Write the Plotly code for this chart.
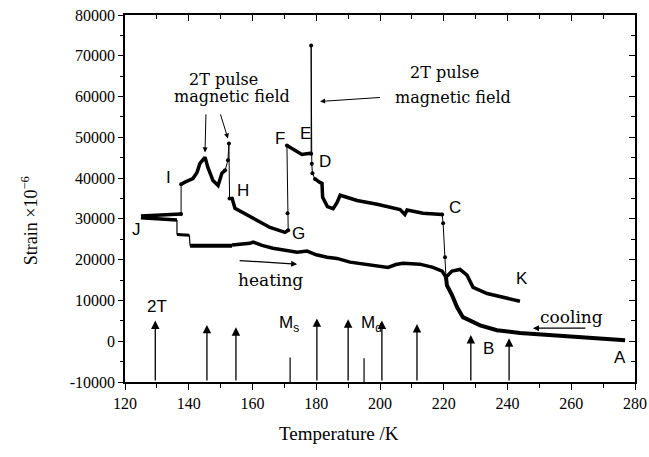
import plotly.graph_objects as go

# ---------------- data ----------------
# cooling branch: A -> B -> (pulse at 220 K) -> C
cool_AB_T = [276.9, 268.0, 260.5, 254.3, 243.9, 236.7, 231.4, 226.0, 224.2, 222.6, 221.0, 220.7]
cool_AB_S = [250, 700, 1200, 1500, 2000, 2700, 3900, 5900, 8300, 11300, 13700, 15700]
pulse_C_T = [220.7, 220.4, 219.8, 219.5]
pulse_C_S = [15700, 20600, 28900, 31100]
# C -> D
cool_CD_T = [219.5, 213.5, 208.5, 207.8, 206.3, 199.1, 192.8, 187.5, 186.5, 185.3, 183.5, 182.0, 181.8, 181.0, 179.6]
cool_CD_S = [31100, 31400, 32200, 31100, 32300, 33600, 34500, 35800, 34000, 32500, 33000, 35300, 38700, 39000, 39800]
pulse_E_T = [179.6, 178.8, 178.6, 178.4, 178.4]
pulse_E_S = [39800, 41200, 43500, 72500, 46000]
# E -> F
cool_EF_T = [178.4, 178.0, 175.5, 173.3, 170.8]
cool_EF_S = [46000, 46100, 45800, 46800, 48000]
drop_FG_T = [170.8, 171.0, 171.2]
drop_FG_S = [48000, 31400, 27200]
# G -> H
cool_GH_T = [171.2, 170.2, 165.5, 160.2, 157.0, 154.5, 153.6]
cool_GH_S = [27200, 26700, 27900, 30100, 31400, 32600, 35000]
pulse_H_T = [153.6, 152.8, 152.6, 152.3, 151.4]
pulse_H_S = [35000, 35000, 48500, 44400, 41900]
# H -> I
cool_HI_T = [151.4, 150.4, 149.2, 147.6, 146.7, 146.0, 145.1, 143.5, 142.6, 141.3, 138.8, 137.9, 137.6]
cool_HI_S = [41900, 41200, 38200, 39400, 41200, 42600, 45100, 43600, 41400, 39900, 39000, 38700, 38500]
drop_I_T = [137.6, 137.6]
drop_I_S = [38500, 31200]
cool_IJ_T = [137.6, 131.0, 125.0]
cool_IJ_S = [31200, 31000, 30700]

# heating branch: J -> K
heat_1_T = [125.0, 131.0, 136.3]
heat_1_S = [30300, 30000, 29700]
heat_step1_T = [136.3, 136.3]
heat_step1_S = [29700, 26200]
heat_2_T = [136.3, 140.2]
heat_2_S = [26200, 26000]
heat_step2_T = [140.2, 140.4]
heat_step2_S = [26000, 23400]
heat_3_T = [140.4, 153.6]
heat_3_S = [23400, 23400]
heat_4_T = [153.6, 159.2, 160.2, 163.0, 166.4, 170.8, 174.0, 177.1, 180.0, 183.4, 186.5, 190.6, 196.0,
            201.0, 202.5, 205.0, 207.2, 212.5, 216.6, 219.5, 220.7, 222.6, 225.1, 227.3, 229.2, 233.6,
            238.6, 243.9]
heat_4_S = [23600, 24000, 24300, 23500, 22800, 22300, 21800, 22100, 21200, 20600, 20300, 19400, 18900,
            18400, 18100, 18800, 19100, 18900, 18100, 17200, 15700, 17200, 17600, 16200, 13200, 11700,
            10800, 9800]

# pulse field markers (bottom arrows) and Ms / Md marks
pulse_T = [129.5, 145.7, 154.8, 180.2, 190.0, 200.6, 211.6, 228.5, 240.5]
pulse_top = [5100, 4000, 3400, 5600, 5400, 5100, 4200, 1500, 700]
mark_T = [171.8, 195.0]
mark_top = [-4000, -4200]

# point labels
lab_text = ["A", "B", "C", "D", "E", "F", "G", "H", "I", "J", "K"]
lab_T = [275.3, 233.9, 223.5, 182.7, 176.5, 168.6, 174.3, 157.0, 133.8, 123.5, 244.5]
lab_S = [-3900, -1700, 32800, 44000, 51000, 49700, 26500, 37000, 40200, 27400, 15400]

x_ticks = [120, 140, 160, 180, 200, 220, 240, 260, 280]
y_ticks = [-10000, 0, 10000, 20000, 30000, 40000, 50000, 60000, 70000, 80000]

# ---------------- figure ----------------
fig = go.Figure()

def thick(x, y, w=3.5):
    fig.add_trace(go.Scatter(x=x, y=y, mode="lines", line=dict(color="black", width=w),
                             showlegend=False, hoverinfo="skip"))

def thin(x, y):
    fig.add_trace(go.Scatter(x=x, y=y, mode="lines+markers", line=dict(color="black", width=1),
                             marker=dict(size=4, color="black"), showlegend=False, hoverinfo="skip"))

thick(cool_AB_T, cool_AB_S, 4)
thin(pulse_C_T, pulse_C_S)
thick(cool_CD_T, cool_CD_S)
thin(pulse_E_T, pulse_E_S)
thick(cool_EF_T, cool_EF_S)
thin(drop_FG_T, drop_FG_S)
thick(cool_GH_T, cool_GH_S)
thin(pulse_H_T, pulse_H_S)
thick(cool_HI_T, cool_HI_S)
thin(drop_I_T, drop_I_S)
thick(cool_IJ_T, cool_IJ_S)
thick(heat_1_T, heat_1_S)
thick(heat_step1_T, heat_step1_S, 1.2)
thick(heat_2_T, heat_2_S, 3)
thick(heat_step2_T, heat_step2_S, 1.2)
thick(heat_3_T, heat_3_S, 4)
thick(heat_4_T, heat_4_S, 3.5)

# Ms / Md marks
mx, my = [], []
for t, top in zip(mark_T, mark_top):
    mx += [t, t, None]
    my += [-10000, top, None]
fig.add_trace(go.Scatter(x=mx, y=my, mode="lines", line=dict(color="black", width=1.2),
                         showlegend=False, hoverinfo="skip"))

# dummy trace for the inward ticks on top / right
fig.add_trace(go.Scatter(x=[120], y=[-10000], xaxis="x2", yaxis="y2", mode="markers",
                         marker=dict(size=1, opacity=0), showlegend=False, hoverinfo="skip"))

ann = []
for t, top in zip(pulse_T, pulse_top):
    ann.append(dict(x=t, y=top, ax=t, ay=-10000, xref="x", yref="y", axref="x", ayref="y",
                    text="", showarrow=True, arrowhead=2, arrowsize=1.3, arrowwidth=1.3,
                    arrowcolor="black"))

sans = "Liberation Sans, Arial, sans-serif"
tw = "DejaVu Serif, serif"
serif = "Liberation Serif, Times New Roman, serif"

for s, t, v in zip(lab_text, lab_T, lab_S):
    ann.append(dict(x=t, y=v, text=s, showarrow=False, font=dict(family=sans, size=17, color="black")))

ann += [
    dict(x=130, y=8600, text="2T", showarrow=False, font=dict(family=sans, size=17, color="black")),
    dict(x=171.5, y=4300, text="M<sub>s</sub>", showarrow=False, font=dict(family=sans, size=17, color="black")),
    dict(x=197.3, y=4300, text="M<sub>d</sub>", showarrow=False, font=dict(family=sans, size=17, color="black")),
    dict(x=165.5, y=14900, text="heating", showarrow=False, font=dict(family=tw, size=17, color="black")),
    dict(x=260.0, y=5900, text="cooling", showarrow=False, font=dict(family=tw, size=17, color="black")),
    dict(x=151.0, y=64200, text="2T pulse", showarrow=False, font=dict(family=tw, size=16, color="black")),
    dict(x=153.5, y=60000, text="magnetic field", showarrow=False, font=dict(family=tw, size=16, color="black")),
    dict(x=220.1, y=65900, text="2T pulse", showarrow=False, font=dict(family=tw, size=16, color="black")),
    dict(x=223.0, y=59800, text="magnetic field", showarrow=False, font=dict(family=tw, size=16, color="black")),
    # arrows
    dict(x=174.0, y=18900, ax=155.5, ay=19800, xref="x", yref="y", axref="x", ayref="y", text="",
         showarrow=True, arrowhead=2, arrowsize=1, arrowwidth=1.2, arrowcolor="black"),
    dict(x=248.0, y=3200, ax=264.9, ay=3200, xref="x", yref="y", axref="x", ayref="y", text="",
         showarrow=True, arrowhead=2, arrowsize=1, arrowwidth=1.2, arrowcolor="black"),
    dict(x=145.1, y=46300, ax=145.4, ay=56000, xref="x", yref="y", axref="x", ayref="y", text="",
         showarrow=True, arrowhead=2, arrowsize=1, arrowwidth=1, arrowcolor="black"),
    dict(x=152.3, y=49700, ax=149.8, ay=56000, xref="x", yref="y", axref="x", ayref="y", text="",
         showarrow=True, arrowhead=2, arrowsize=1, arrowwidth=1, arrowcolor="black"),
    dict(x=181.2, y=58800, ax=200.5, ay=59800, xref="x", yref="y", axref="x", ayref="y", text="",
         showarrow=True, arrowhead=2, arrowsize=1, arrowwidth=1, arrowcolor="black"),
    # axis titles
    dict(x=0.42, y=-0.174, xref="paper", yref="paper", text="Temperature /K", showarrow=False,
         font=dict(family=serif, size=19, color="black")),
    dict(x=-0.212, y=0.439, xref="paper", yref="paper", text="Strain ×10<sup>−6</sup>", showarrow=False,
         textangle=-90, font=dict(family=serif, size=18, color="black")),
]

axis_common = dict(showgrid=False, zeroline=False, showline=True, linecolor="black", linewidth=1.6,
                   tickcolor="black", tickwidth=1.4, automargin=False)

fig.update_layout(
    width=649, height=457,
    margin=dict(l=125, r=14, t=15, b=75, autoexpand=False),
    plot_bgcolor="white", paper_bgcolor="white",
    xaxis=dict(range=[120, 280], tickvals=x_ticks, ticktext=[str(v) for v in x_ticks],
               ticks="outside", ticklen=6, mirror=True,
               minor=dict(dtick=10, tick0=120, ticks="outside", ticklen=4, tickcolor="black"),
               tickfont=dict(family=serif, size=16, color="black"), **axis_common),
    yaxis=dict(range=[-10000, 80000], tickvals=y_ticks, ticktext=[str(v) for v in y_ticks],
               ticks="outside", ticklen=5, mirror=True,
               minor=dict(dtick=5000, tick0=0, ticks="outside", ticklen=3, tickcolor="black"),
               tickfont=dict(family=serif, size=16, color="black"), **axis_common),
    xaxis2=dict(range=[120, 280], overlaying="x", side="top", anchor="y2", ticks="inside", ticklen=6,
                tickvals=x_ticks, showticklabels=False,
                minor=dict(dtick=10, tick0=120, ticks="inside", ticklen=4, tickcolor="black"),
                **axis_common),
    yaxis2=dict(range=[-10000, 80000], overlaying="y", side="right", anchor="x2", ticks="inside", ticklen=6,
                tickvals=y_ticks, showticklabels=False,
                minor=dict(dtick=5000, tick0=0, ticks="inside", ticklen=4, tickcolor="black"),
                **axis_common),
    annotations=ann,
)

fig.write_html("out.html", config={"displayModeBar": False},
               post_script="document.body.style.margin='0';document.body.style.overflow='hidden';")
